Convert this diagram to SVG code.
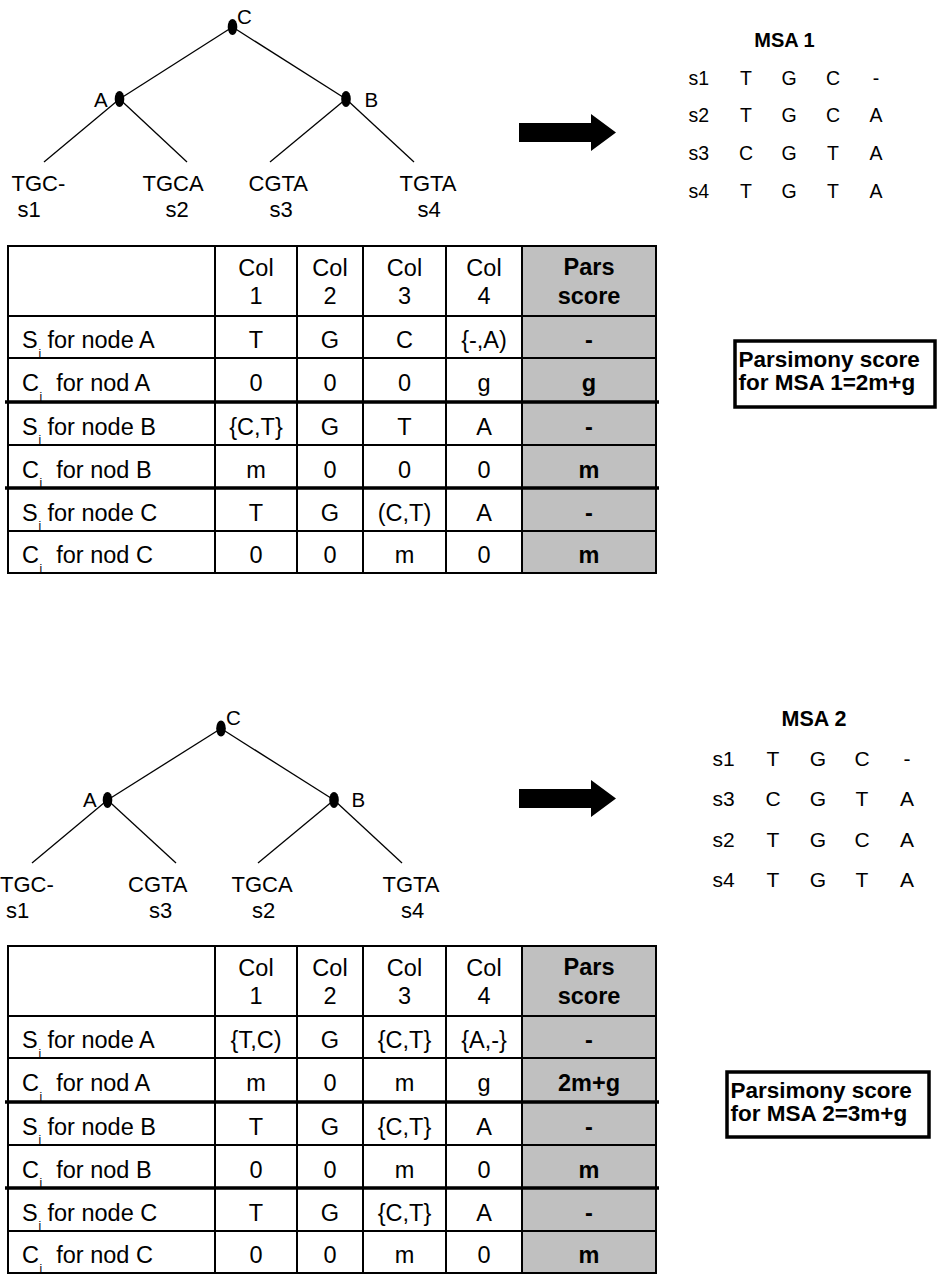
<svg xmlns="http://www.w3.org/2000/svg" xmlns:xlink="http://www.w3.org/1999/xlink" width="938" height="1275" viewBox="0 0 938 1275">
  <style>
    text { font-family: "Liberation Sans", Arial, Helvetica, sans-serif; fill: #000; }
    .leaf { font-size: 22px; }
    .lbl { font-size: 20.5px; }
    .cell { font-size: 23.5px; text-anchor: middle; }
    .rowlbl { font-size: 23.5px; }
    .sub { font-size: 12px; }
    .b { font-weight: bold; }
    .msa1 { font-size: 19.5px; }
    .msa2 { font-size: 21px; }
    .mid { text-anchor: middle; }
    .box-t { font-size: 22.5px; font-weight: bold; }
    .edge { stroke: #000; stroke-width: 1.3; fill: none; }
    .node { fill: #000; }
    .grid { stroke: #000; stroke-width: 2; fill: none; }
    .thick { stroke: #000; stroke-width: 3.5; }
    .score { fill: #c0c0c0; }
    .box { fill: #fff; stroke: #000; stroke-width: 3.5; }
  </style>
  <defs>
    <!-- block arrow pointing from a tree to its alignment -->
    <polygon id="arrow" points="519,123 591,123 591,114 616,132.5 591,151 591,142 519,142" fill="#000"/>
    <!-- shared table frame: grey score column, grid, header and row labels -->
    <g id="table-frame">
      <rect class="score" x="522" y="246" width="134" height="327"/>
      <rect class="grid" x="8" y="246" width="648" height="327"/>
      <path class="grid" d="M215,246V573 M297,246V573 M363,246V573 M446,246V573 M522,246V573 M8,316H656 M8,358H656 M8,445H656 M8,531H656"/>
      <path class="thick" d="M5,402H659 M5,488H659"/>
      <text class="cell" x="256" y="276">Col</text><text class="cell" x="256" y="304">1</text>
      <text class="cell" x="330" y="276">Col</text><text class="cell" x="330" y="304">2</text>
      <text class="cell" x="404.5" y="276">Col</text><text class="cell" x="404.5" y="304">3</text>
      <text class="cell" x="484" y="276">Col</text><text class="cell" x="484" y="304">4</text>
      <text class="cell b" x="589" y="275">Pars</text><text class="cell b" x="589" y="304">score</text>
      <text class="rowlbl" x="22" y="348">S<tspan class="sub" x="38.5" dy="9.5">i</tspan><tspan x="47.5" dy="-9.5">for node A</tspan></text>
      <text class="rowlbl" x="22" y="391">C<tspan class="sub" x="39.5" dy="9.5">i</tspan><tspan x="56.2" dy="-9.5">for nod A</tspan></text>
      <text class="rowlbl" x="22" y="434.5">S<tspan class="sub" x="38.5" dy="9.5">i</tspan><tspan x="47.5" dy="-9.5">for node B</tspan></text>
      <text class="rowlbl" x="22" y="477.5">C<tspan class="sub" x="39.5" dy="9.5">i</tspan><tspan x="56.2" dy="-9.5">for nod B</tspan></text>
      <text class="rowlbl" x="22" y="520.5">S<tspan class="sub" x="38.5" dy="9.5">i</tspan><tspan x="47.5" dy="-9.5">for node C</tspan></text>
      <text class="rowlbl" x="22" y="563">C<tspan class="sub" x="39.5" dy="9.5">i</tspan><tspan x="56.2" dy="-9.5">for nod C</tspan></text>
    </g>
  </defs>

  <rect width="938" height="1275" fill="#fff"/>

  <!-- ===== Tree 1 ===== -->
  <g id="tree1-connectors">
    <line class="edge" x1="232.5" y1="27" x2="119.5" y2="99"/>
    <line class="edge" x1="232.5" y1="27" x2="346" y2="99"/>
    <line class="edge" x1="119.5" y1="99" x2="44" y2="162"/>
    <line class="edge" x1="119.5" y1="99" x2="187" y2="162"/>
    <line class="edge" x1="346" y1="99" x2="270" y2="162"/>
    <line class="edge" x1="346" y1="99" x2="414" y2="162"/>
  </g>
  <g id="tree1-node-C">
    <ellipse class="node" cx="232.5" cy="27" rx="4.8" ry="8"/>
    <text class="lbl" x="237" y="24">C</text>
  </g>
  <g id="tree1-node-A">
    <ellipse class="node" cx="119.5" cy="99" rx="4.8" ry="8"/>
    <text class="lbl" x="94" y="107">A</text>
  </g>
  <g id="tree1-node-B">
    <ellipse class="node" cx="346" cy="99" rx="4.8" ry="8"/>
    <text class="lbl" x="364.5" y="107">B</text>
  </g>
  <g id="tree1-leaf-s1"><text class="leaf" x="11.5" y="191">TGC-</text><text class="leaf" x="17.6" y="217">s1</text></g>
  <g id="tree1-leaf-s2"><text class="leaf" x="142.5" y="191">TGCA</text><text class="leaf" x="165.5" y="217">s2</text></g>
  <g id="tree1-leaf-s3"><text class="leaf" x="248.5" y="191">CGTA</text><text class="leaf" x="269.5" y="217">s3</text></g>
  <g id="tree1-leaf-s4"><text class="leaf" x="399.5" y="191">TGTA</text><text class="leaf" x="417.5" y="217">s4</text></g>

  <g id="arrow1"><use xlink:href="#arrow"/></g>

  <!-- ===== MSA 1 ===== -->
  <g id="msa1" class="msa1">
    <text class="b mid" x="784.5" y="47" style="font-size:20px">MSA 1</text>
    <text x="688.5" y="85">s1</text><text class="mid" x="746" y="85">T</text><text class="mid" x="789" y="85">G</text><text class="mid" x="833" y="85">C</text><text class="mid" x="876" y="85">-</text>
    <text x="688.5" y="122">s2</text><text class="mid" x="746" y="122">T</text><text class="mid" x="789" y="122">G</text><text class="mid" x="833" y="122">C</text><text class="mid" x="876" y="122">A</text>
    <text x="688.5" y="160">s3</text><text class="mid" x="746" y="160">C</text><text class="mid" x="789" y="160">G</text><text class="mid" x="833" y="160">T</text><text class="mid" x="876" y="160">A</text>
    <text x="688.5" y="198">s4</text><text class="mid" x="746" y="198">T</text><text class="mid" x="789" y="198">G</text><text class="mid" x="833" y="198">T</text><text class="mid" x="876" y="198">A</text>
  </g>

  <!-- ===== Table 1 ===== -->
  <g id="table1">
    <use xlink:href="#table-frame"/>
    <text class="cell" x="256" y="348">T</text><text class="cell" x="330" y="348">G</text><text class="cell" x="404.5" y="348">C</text><text class="cell" x="484" y="348">{-,A)</text><text class="cell b" x="589" y="348">-</text>
    <text class="cell" x="256" y="391">0</text><text class="cell" x="330" y="391">0</text><text class="cell" x="404.5" y="391">0</text><text class="cell" x="484" y="391">g</text><text class="cell b" x="589" y="391">g</text>
    <text class="cell" x="256" y="434.5">{C,T}</text><text class="cell" x="330" y="434.5">G</text><text class="cell" x="404.5" y="434.5">T</text><text class="cell" x="484" y="434.5">A</text><text class="cell b" x="589" y="434.5">-</text>
    <text class="cell" x="256" y="477.5">m</text><text class="cell" x="330" y="477.5">0</text><text class="cell" x="404.5" y="477.5">0</text><text class="cell" x="484" y="477.5">0</text><text class="cell b" x="589" y="477.5">m</text>
    <text class="cell" x="256" y="520.5">T</text><text class="cell" x="330" y="520.5">G</text><text class="cell" x="404.5" y="520.5">(C,T)</text><text class="cell" x="484" y="520.5">A</text><text class="cell b" x="589" y="520.5">-</text>
    <text class="cell" x="256" y="563">0</text><text class="cell" x="330" y="563">0</text><text class="cell" x="404.5" y="563">m</text><text class="cell" x="484" y="563">0</text><text class="cell b" x="589" y="563">m</text>
  </g>

  <g id="score1">
    <rect class="box" x="735" y="341" width="200" height="66"/>
    <text class="box-t" x="738.5" y="367">Parsimony score</text>
    <text class="box-t" x="738.5" y="390">for MSA 1=2m+g</text>
  </g>

  <!-- ===== Tree 2 ===== -->
  <g id="tree2-connectors">
    <line class="edge" x1="221" y1="728.5" x2="107.5" y2="800"/>
    <line class="edge" x1="221" y1="728.5" x2="334" y2="800"/>
    <line class="edge" x1="107.5" y1="800" x2="32" y2="863"/>
    <line class="edge" x1="107.5" y1="800" x2="176" y2="863"/>
    <line class="edge" x1="334" y1="800" x2="258" y2="863"/>
    <line class="edge" x1="334" y1="800" x2="402" y2="863"/>
  </g>
  <g id="tree2-node-C">
    <ellipse class="node" cx="221" cy="728.5" rx="4.8" ry="8"/>
    <text class="lbl" x="226" y="725">C</text>
  </g>
  <g id="tree2-node-A">
    <ellipse class="node" cx="107.5" cy="800" rx="4.8" ry="8"/>
    <text class="lbl" x="83" y="807">A</text>
  </g>
  <g id="tree2-node-B">
    <ellipse class="node" cx="334" cy="800" rx="4.8" ry="8"/>
    <text class="lbl" x="351.5" y="807">B</text>
  </g>
  <g id="tree2-leaf-s1"><text class="leaf" x="0" y="892">TGC-</text><text class="leaf" x="6" y="918">s1</text></g>
  <g id="tree2-leaf-s3"><text class="leaf" x="128" y="892">CGTA</text><text class="leaf" x="149" y="918">s3</text></g>
  <g id="tree2-leaf-s2"><text class="leaf" x="231.5" y="892">TGCA</text><text class="leaf" x="252" y="918">s2</text></g>
  <g id="tree2-leaf-s4"><text class="leaf" x="382.5" y="892">TGTA</text><text class="leaf" x="401" y="918">s4</text></g>

  <g id="arrow2"><use xlink:href="#arrow" transform="translate(0,666)"/></g>

  <!-- ===== MSA 2 ===== -->
  <g id="msa2" class="msa2">
    <text class="b mid" x="814" y="726" style="font-size:21.5px">MSA 2</text>
    <text x="712.5" y="766">s1</text><text class="mid" x="773" y="766">T</text><text class="mid" x="818" y="766">G</text><text class="mid" x="862" y="766">C</text><text class="mid" x="907" y="766">-</text>
    <text x="712.5" y="806">s3</text><text class="mid" x="773" y="806">C</text><text class="mid" x="818" y="806">G</text><text class="mid" x="862" y="806">T</text><text class="mid" x="907" y="806">A</text>
    <text x="712.5" y="847">s2</text><text class="mid" x="773" y="847">T</text><text class="mid" x="818" y="847">G</text><text class="mid" x="862" y="847">C</text><text class="mid" x="907" y="847">A</text>
    <text x="712.5" y="887">s4</text><text class="mid" x="773" y="887">T</text><text class="mid" x="818" y="887">G</text><text class="mid" x="862" y="887">T</text><text class="mid" x="907" y="887">A</text>
  </g>

  <!-- ===== Table 2 ===== -->
  <g id="table2">
    <use xlink:href="#table-frame" transform="translate(0,700)"/>
    <text class="cell" x="256" y="1048">{T,C)</text><text class="cell" x="330" y="1048">G</text><text class="cell" x="404.5" y="1048">{C,T}</text><text class="cell" x="484" y="1048">{A,-}</text><text class="cell b" x="589" y="1048">-</text>
    <text class="cell" x="256" y="1091">m</text><text class="cell" x="330" y="1091">0</text><text class="cell" x="404.5" y="1091">m</text><text class="cell" x="484" y="1091">g</text><text class="cell b" x="589" y="1091">2m+g</text>
    <text class="cell" x="256" y="1134.5">T</text><text class="cell" x="330" y="1134.5">G</text><text class="cell" x="404.5" y="1134.5">{C,T}</text><text class="cell" x="484" y="1134.5">A</text><text class="cell b" x="589" y="1134.5">-</text>
    <text class="cell" x="256" y="1177.5">0</text><text class="cell" x="330" y="1177.5">0</text><text class="cell" x="404.5" y="1177.5">m</text><text class="cell" x="484" y="1177.5">0</text><text class="cell b" x="589" y="1177.5">m</text>
    <text class="cell" x="256" y="1220.5">T</text><text class="cell" x="330" y="1220.5">G</text><text class="cell" x="404.5" y="1220.5">{C,T}</text><text class="cell" x="484" y="1220.5">A</text><text class="cell b" x="589" y="1220.5">-</text>
    <text class="cell" x="256" y="1263">0</text><text class="cell" x="330" y="1263">0</text><text class="cell" x="404.5" y="1263">m</text><text class="cell" x="484" y="1263">0</text><text class="cell b" x="589" y="1263">m</text>
  </g>

  <g id="score2">
    <rect class="box" x="727" y="1072" width="202" height="65"/>
    <text class="box-t" x="730.5" y="1098">Parsimony score</text>
    <text class="box-t" x="730.5" y="1121">for MSA 2=3m+g</text>
  </g>
</svg>
